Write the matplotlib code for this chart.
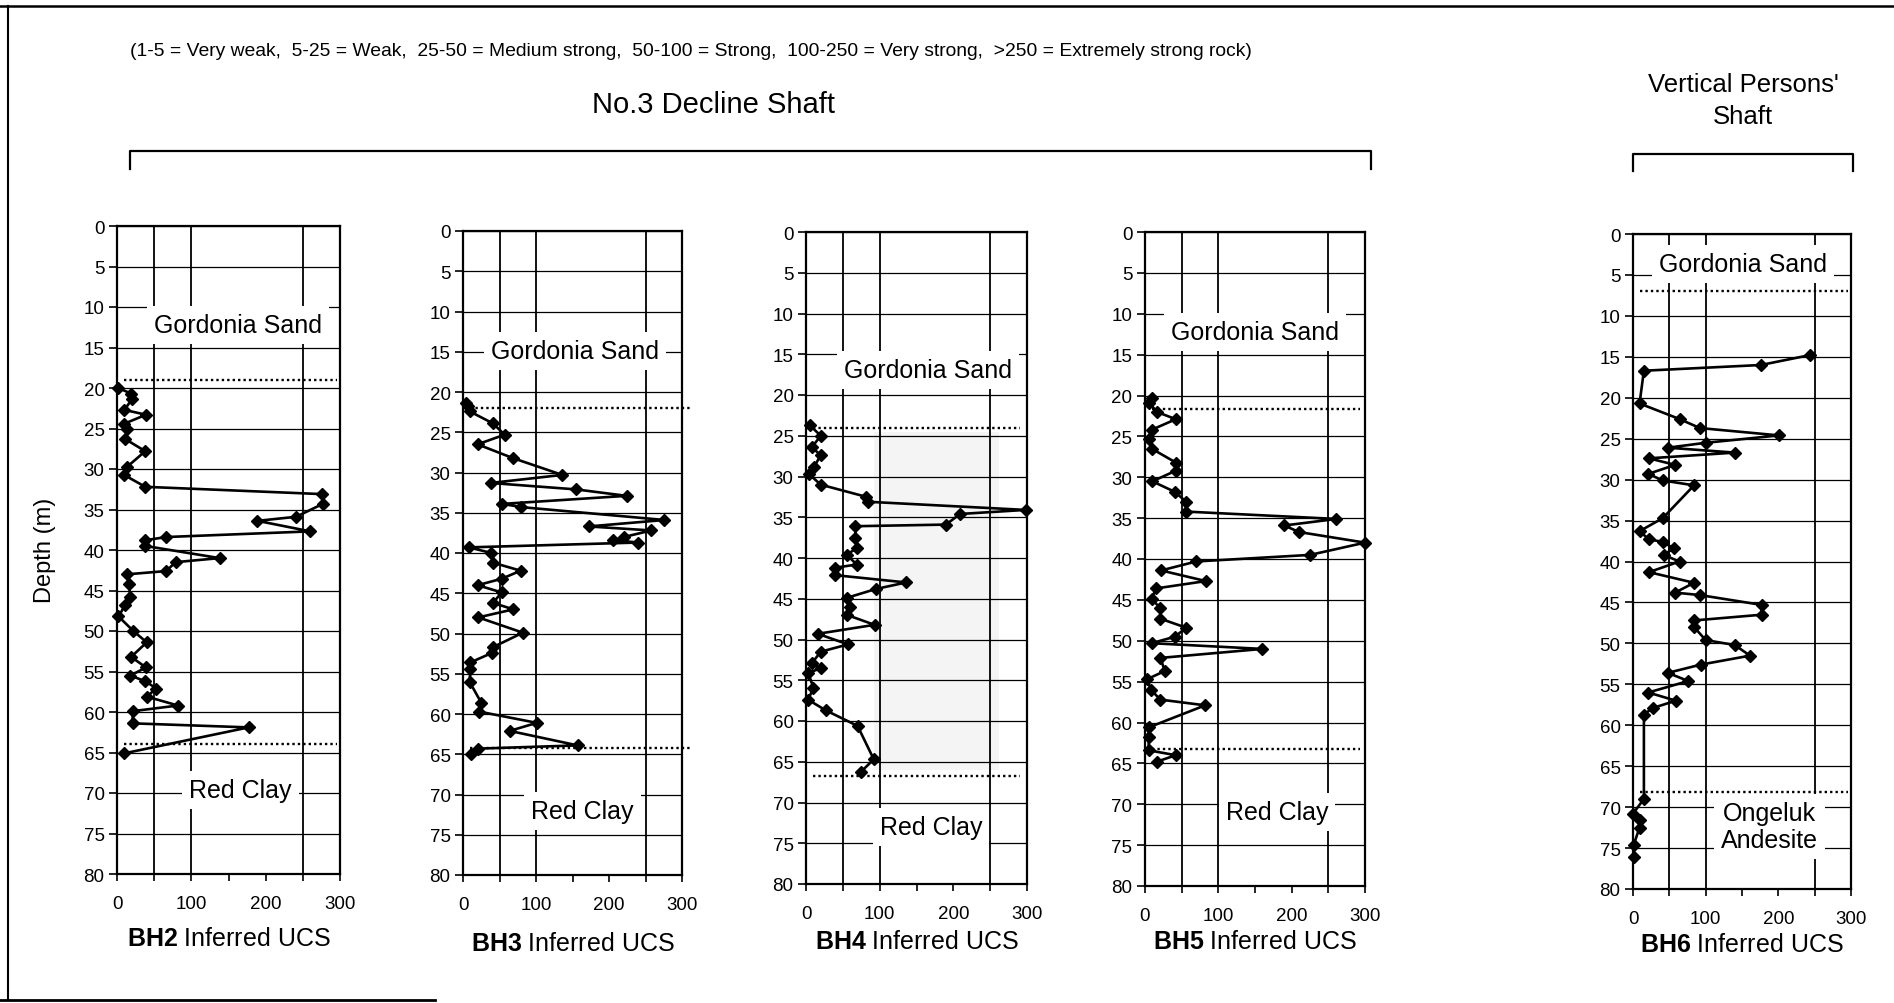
import matplotlib
matplotlib.use("Agg")
import matplotlib.pyplot as plt
from matplotlib.lines import Line2D
from matplotlib.ticker import MultipleLocator

plt.rcParams["font.family"] = ["Liberation Sans", "DejaVu Sans"]
plt.rcParams["mathtext.fontset"] = "custom"
plt.rcParams["mathtext.rm"] = "Liberation Sans"
plt.rcParams["mathtext.bf"] = "Liberation Sans:bold"

W, H = 1894, 1004

# ---- data (depth in m, inferred UCS in MPa) ----
bh2_depth = [20.0, 20.7, 21.4, 22.7, 23.3, 24.4, 25.1, 26.3, 27.8, 29.7, 30.7, 32.2,
             33.1, 34.3, 35.9, 36.4, 37.7, 38.4, 38.8, 39.5, 41.0, 41.5, 42.6, 43.0,
             44.2, 45.8, 46.8, 48.2, 50.0, 51.4, 53.2, 54.5, 55.5, 56.2, 57.1, 58.1,
             59.2, 59.9, 61.4, 61.9, 65.1]
bh2_ucs = [2, 19, 20, 10, 39, 10, 14, 11, 38, 14, 9, 38,
           276, 277, 241, 189, 260, 66, 38, 38, 138, 79, 66, 14,
           16, 18, 11, 2, 22, 40, 19, 39, 18, 38, 53, 40,
           82, 21, 21, 177, 10]

bh3_depth = [21.4, 21.8, 22.4, 23.9, 25.3, 26.5, 28.2, 30.3, 31.3, 32.1, 32.9, 33.9,
             34.3, 35.9, 36.7, 37.2, 38.0, 38.4, 38.7, 39.3, 40.0, 41.2, 42.2, 43.2,
             44.0, 44.9, 46.2, 47.0, 48.0, 49.9, 51.7, 52.4, 53.6, 54.4, 56.0, 58.6,
             59.7, 61.1, 62.1, 63.9, 64.3, 65.0]
bh3_ucs = [4, 7, 9, 41, 57, 20, 68, 136, 38, 155, 224, 54,
           80, 276, 172, 258, 221, 206, 240, 8, 39, 41, 79, 53,
           20, 53, 41, 69, 21, 82, 41, 40, 10, 10, 9, 25,
           22, 101, 64, 157, 21, 11]

bh4_depth = [23.7, 25.0, 26.4, 27.4, 28.8, 29.7, 31.0, 32.5, 33.1, 34.1, 34.6, 35.9,
             36.1, 37.5, 38.8, 39.6, 40.8, 41.2, 42.1, 43.0, 43.8, 44.9, 46.0, 47.0,
             48.2, 49.3, 50.6, 51.5, 52.9, 53.5, 54.1, 55.9, 57.4, 58.7, 60.6, 64.7,
             66.2]
bh4_ucs = [5, 20, 8, 20, 11, 4, 20, 82, 84, 298, 209, 190,
           67, 67, 69, 55, 69, 39, 39, 136, 95, 55, 60, 56,
           93, 16, 57, 20, 8, 21, 3, 10, 3, 27, 70, 92,
           75]

bh5_depth = [20.3, 20.9, 22.0, 22.9, 24.2, 25.3, 26.5, 28.2, 29.2, 30.5, 31.8, 33.0,
             34.2, 35.1, 35.9, 36.7, 38.0, 39.5, 40.3, 41.4, 42.7, 43.6, 44.9, 46.0,
             47.3, 48.4, 49.5, 50.3, 51.0, 52.1, 53.7, 54.7, 56.0, 57.2, 57.9, 60.6,
             61.8, 63.4, 64.0, 64.8]
bh5_ucs = [9, 6, 16, 42, 9, 6, 9, 42, 42, 10, 41, 56,
           56, 261, 190, 210, 300, 225, 70, 22, 83, 15, 9, 21,
           21, 56, 41, 9, 160, 21, 27, 3, 8, 21, 82, 5,
           5, 5, 42, 16]

bh6_depth = [14.8, 16.0, 16.7, 20.7, 22.6, 23.7, 24.6, 25.5, 26.1, 26.7, 27.4, 28.2,
             29.3, 30.1, 30.7, 34.7, 36.3, 37.3, 37.6, 38.4, 39.2, 40.0, 41.3, 42.6,
             43.8, 44.1, 45.3, 46.5, 47.2, 48.0, 49.6, 50.2, 51.5, 52.6, 53.6, 54.6,
             56.0, 57.0, 57.9, 58.7, 69.0, 70.8, 71.6, 72.5, 74.6, 76.1]
bh6_ucs = [243, 176, 15, 9, 64, 92, 201, 100, 48, 140, 22, 58,
           21, 41, 84, 41, 9, 22, 41, 56, 42, 64, 22, 84,
           58, 92, 177, 177, 84, 84, 100, 140, 161, 93, 48, 76,
           21, 59, 27, 15, 15, 0, 10, 9, 1, 1]

# geological contacts (m) and layer names
bh2_contacts = [19.0, 64.0]
bh3_contacts = [22.0, 64.2]
bh4_contacts = [24.0, 66.7]
bh5_contacts = [21.6, 63.2]
bh6_contacts = [7.0, 68.2]

bh2_layers = [("Gordonia Sand", 163, 12.2), ("Red Clay", 166, 69.6)]
bh3_layers = [("Gordonia Sand", 153, 14.9), ("Red Clay", 164, 72.0)]
bh4_layers = [("Gordonia Sand", 166, 16.9), ("Red Clay", 170, 73.0)]
bh5_layers = [("Gordonia Sand", 150, 12.2), ("Red Clay", 180, 71.0)]
bh6_layers = [("Gordonia Sand", 151, 3.7), ("Ongeluk\nAndesite", 188, 72.4)]

# strength class boundaries drawn as vertical lines
strength_bounds = [50, 100, 250]

boreholes = ["BH2", "BH3", "BH4", "BH5", "BH6"]
depths = [bh2_depth, bh3_depth, bh4_depth, bh5_depth, bh6_depth]
ucs = [bh2_ucs, bh3_ucs, bh4_ucs, bh5_ucs, bh6_ucs]
contacts = [bh2_contacts, bh3_contacts, bh4_contacts, bh5_contacts, bh6_contacts]
layers = [bh2_layers, bh3_layers, bh4_layers, bh5_layers, bh6_layers]

# axes boxes in pixels: left, top, right, bottom
boxes = [(117, 227, 340, 875), (463, 232, 682, 876), (806, 233, 1027, 885),
         (1145, 233, 1365, 887), (1633, 235, 1851, 890)]
contact_right = [0.985, 1.035, 0.97, 0.975, 0.985]
xlabel_pads = [10.5, 13, 5.5, 4, 4]


def px(x, y):
    return x / W, 1 - y / H


fig = plt.figure(figsize=(W / 100, H / 100), dpi=100)
fig.patch.set_facecolor("white")

for i, name in enumerate(boreholes):
    l, t, r, b = boxes[i]
    ax = fig.add_axes([l / W, 1 - b / H, (r - l) / W, (b - t) / H])
    ax.set_xlim(0, 300)
    ax.set_ylim(80, 0)
    ax.yaxis.set_major_locator(MultipleLocator(5))
    ax.xaxis.set_major_locator(MultipleLocator(100))
    ax.xaxis.set_minor_locator(MultipleLocator(50))
    ax.yaxis.grid(True, color="black", lw=0.9, zorder=1)
    ax.set_axisbelow(True)
    for v in strength_bounds:
        ax.axvline(v, color="black", lw=1.3, zorder=1)
    for s in ax.spines.values():
        s.set_linewidth(1.6)
    ax.tick_params(axis="both", direction="out", labelsize=13.5, width=1.2)
    ax.tick_params(axis="y", length=6, pad=3)
    ax.tick_params(axis="x", which="major", length=5, pad=10)
    ax.tick_params(axis="x", which="minor", length=5, width=1.2)

    if name == "BH4":
        ax.fill_betweenx([24.5, 66.0], 92, 262, color="#f4f4f4", lw=0, zorder=0)

    for c in contacts[i]:
        ax.add_line(Line2D([0.03, contact_right[i]], [c, c], transform=ax.get_yaxis_transform(),
                           color="black", lw=1.7, ls=(0, (1, 1.3)), clip_on=False, zorder=3))

    for txt, x, y in layers[i]:
        ax.text(x, y, txt, ha="center", va="center", fontsize=18, zorder=3,
                linespacing=1.15,
                bbox=dict(fc="white", ec="none", pad=5))

    ax.plot(ucs[i], depths[i], color="black", lw=1.9, marker="D", ms=6.5,
            mfc="black", mec="black", zorder=4, clip_on=False)

    ax.set_xlabel(r"$\bf{" + name + "}$ Inferred UCS", fontsize=18, labelpad=xlabel_pads[i])

fig.text(*px(45, 550), "Depth (m)", rotation=90, ha="center", va="center", fontsize=17)

fig.text(*px(130, 52), "(1-5 = Very weak,  5-25 = Weak,  25-50 = Medium strong,  "
         "50-100 = Strong,  100-250 = Very strong,  >250 = Extremely strong rock)",
         ha="left", va="center", fontsize=13.9)
fig.text(*px(713, 105), "No.3 Decline Shaft", ha="center", va="center", fontsize=21)
fig.text(*px(1743, 101), "Vertical Persons'\nShaft", ha="center", va="center",
         fontsize=18.5, linespacing=1.4)


# group brackets
def bracket(x0, x1, y, y_end):
    xs = [x0, x0, x1, x1]
    ys = [y_end, y, y, y_end]
    fig.add_artist(Line2D([v / W for v in xs], [1 - v / H for v in ys],
                          color="black", lw=1.6, transform=fig.transFigure))


bracket(130, 1371, 152, 170)
bracket(1633, 1853, 155, 172)

# frame round the figure (as scanned)
fig.add_artist(Line2D([0, 1], [1 - 7 / H, 1 - 7 / H], color="black", lw=1.8, transform=fig.transFigure))
fig.add_artist(Line2D([8 / W, 8 / W], [1 - 7 / H, 1 - 1001 / H], color="black", lw=1.5,
                      transform=fig.transFigure))
fig.add_artist(Line2D([0, 435 / W], [1 - 1001 / H, 1 - 1001 / H], color="black", lw=2,
                      transform=fig.transFigure))

fig.savefig("out.png", dpi=100)
